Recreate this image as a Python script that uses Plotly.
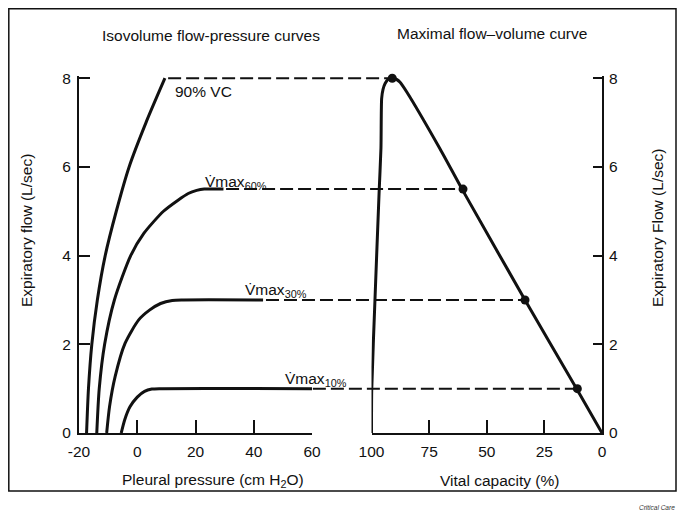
import plotly.graph_objects as go

# ---------------- data ----------------
# Left panel: isovolume flow-pressure curves (pleural pressure in cm H2O, flow in L/sec)
p90 = [-17.4, -16.75, -15.6, -13.7, -11.0, -7.2, -2.8, 3.0, 9.5]
f90 = [0, 1, 2, 3, 4, 5, 6, 7, 8]
p60 = [-13.9, -13.05, -11.2, -7.85, -2.25, 2.25, 9.0, 14.0, 17.5, 20.4, 23.0, 29.6]
f60 = [0, 1, 2, 3, 4, 4.5, 5.0, 5.25, 5.4, 5.47, 5.5, 5.5]
p30 = [-10.5, -9.5, -7.6, -4.2, 0.5, 4.2, 8.0, 12.0, 16.0, 43.2]
f30 = [0, 0.6, 1.27, 2.02, 2.55, 2.77, 2.92, 2.99, 3.0, 3.0]
p10 = [-5.5, -4.3, -2.5, 0.0, 2.5, 5.0, 8.0, 60]
f10 = [0, 0.3, 0.59, 0.81, 0.94, 0.99, 1.0, 1.0]

# Right panel: maximal flow-volume curve (vital capacity %, flow L/sec)
vc_curve = [100, 99.9, 98.5, 96.7, 95.9, 95.6, 95.0, 94.1, 92.5, 91.0, 89.3, 87.6, 84.7, 70.3, 60.3, 33.4, 10.7, 0]
flow_curve = [0, 0.97, 3.0, 5.43, 6.42, 7.54, 7.75, 7.88, 7.99, 8.02, 7.98, 7.91, 7.69, 6.41, 5.46, 3.0, 0.97, 0]

# Linking points (isovolume plateaus -> flow-volume curve)
link_flow = [8.0, 5.5, 3.0, 1.0]
link_vc = [91.0, 60.3, 33.4, 10.7]
link_pressure_start = [10.6, 30.5, 44.2, 60.3]

left_xticks = [-20, 0, 20, 40, 60]
left_xticktext = ["-20", "0", "20", "40", "60"]
right_xticks = [100, 75, 50, 25, 0]
yticks = [0, 2, 4, 6, 8]

# ---------------- layout geometry (screen pixels; page body adds an 8px offset) ----------------
OFF = 8
W, H = 685 - OFF, 510 - OFF
L, R, T, B = 79, 602, 76, 433          # plot area in screen pixels
PW, PH = R - L, B - T
LEFT_END = 312
RIGHT_START = 371.5
dl = [0, (LEFT_END - L) / PW]
dr = [(RIGHT_START - L) / PW, 1]
XL = [-20, 60]
XR = [100, 0]
YR = [0, 8.05]


def px2x(px):
    return (px - L) / PW


def py2y(py):
    return (B - py) / PH


def left_to_paper(u):
    return dl[0] + (u - XL[0]) / (XL[1] - XL[0]) * (dl[1] - dl[0])


def right_to_paper(v):
    return dr[0] + (v - XR[0]) / (XR[1] - XR[0]) * (dr[1] - dr[0])


FONT = "Liberation Sans, Arial, Helvetica, sans-serif"
BLACK = "#111111"
FS = 15.5

fig = go.Figure()

line_style = dict(color=BLACK, width=3, shape="spline", smoothing=0.7)
for px_, fy in [(p90, f90), (p60, f60), (p30, f30), (p10, f10)]:
    fig.add_trace(go.Scatter(x=px_, y=fy, mode="lines", line=line_style,
                             xaxis="x", yaxis="y", showlegend=False, hoverinfo="skip"))

fig.add_trace(go.Scatter(x=vc_curve, y=flow_curve, mode="lines",
                         line=dict(color=BLACK, width=3, shape="spline", smoothing=0.6),
                         xaxis="x2", yaxis="y2", showlegend=False, hoverinfo="skip"))
fig.add_trace(go.Scatter(x=link_vc, y=link_flow, mode="markers",
                         marker=dict(color=BLACK, size=9), cliponaxis=False,
                         xaxis="x2", yaxis="y2", showlegend=False, hoverinfo="skip"))

shapes = []
for u0, v1, fy in zip(link_pressure_start, link_vc, link_flow):
    shapes.append(dict(type="line", xref="paper", yref="y",
                       x0=left_to_paper(u0), x1=right_to_paper(v1), y0=fy, y1=fy,
                       line=dict(color=BLACK, width=2, dash="13px,5px"), layer="below"))
# outer frame
shapes.append(dict(type="rect", xref="paper", yref="paper",
                   x0=px2x(8.8), x1=px2x(676), y0=py2y(491), y1=py2y(8.8),
                   line=dict(color=BLACK, width=1.5)))

axis_common = dict(showgrid=False, zeroline=False, showline=True, linecolor=BLACK,
                   linewidth=2, ticks="inside", tickcolor=BLACK, tickwidth=2,
                   tickfont=dict(family=FONT, size=FS, color=BLACK))

fig.update_layout(
    width=W, height=H,
    margin=dict(l=L - OFF, r=W - (R - OFF), t=T - OFF, b=H - (B - OFF), pad=0),
    paper_bgcolor="white", plot_bgcolor="white",
    font=dict(family=FONT, size=FS, color=BLACK),
    xaxis=dict(domain=dl, range=XL, tickvals=left_xticks, ticktext=left_xticktext, ticklen=13,
               anchor="y", ticklabelstandoff=3, **axis_common),
    yaxis=dict(domain=[0, 1], range=YR, tickvals=yticks, ticklen=11,
               anchor="x", ticklabelstandoff=3, **axis_common),
    xaxis2=dict(domain=dr, range=XR, tickvals=right_xticks, ticklen=13,
                anchor="y2", ticklabelstandoff=3, **axis_common),
    yaxis2=dict(domain=[0, 1], range=YR, tickvals=yticks, ticklen=9,
                anchor="x2", side="right", ticklabelstandoff=2, **axis_common),
    shapes=shapes,
)

ann = []


def text(s, px, py, size=FS, xanchor="center", yanchor="middle", angle=0, color=BLACK):
    ann.append(dict(text=s, x=px2x(px), y=py2y(py), xref="paper", yref="paper",
                    xanchor=xanchor, yanchor=yanchor, showarrow=False, textangle=angle,
                    font=dict(family=FONT, size=size, color=color)))


text("Isovolume flow-pressure curves", 211, 36)
text("Maximal flow\u2013volume curve", 492, 34)
text("Pleural pressure (cm H<sub>2</sub>O)", 213, 480)
text("Vital capacity (%)", 499, 480)
text("Expiratory flow (L/sec)", 26, 231, angle=-90)
text("Expiratory Flow (L/sec)", 657, 228, angle=-90)
text("90% VC", 173, 92, xanchor="left")
text("V\u0307max<sub>60%</sub>", 203, 182, xanchor="left")
text("V\u0307max<sub>30%</sub>", 243, 290, xanchor="left")
text("V\u0307max<sub>10%</sub>", 283, 379, xanchor="left")
text("<i>Critical Care</i>", 657, 508, size=6.5, color="#333333")

fig.update_layout(annotations=ann)
fig.write_html("out.html")
